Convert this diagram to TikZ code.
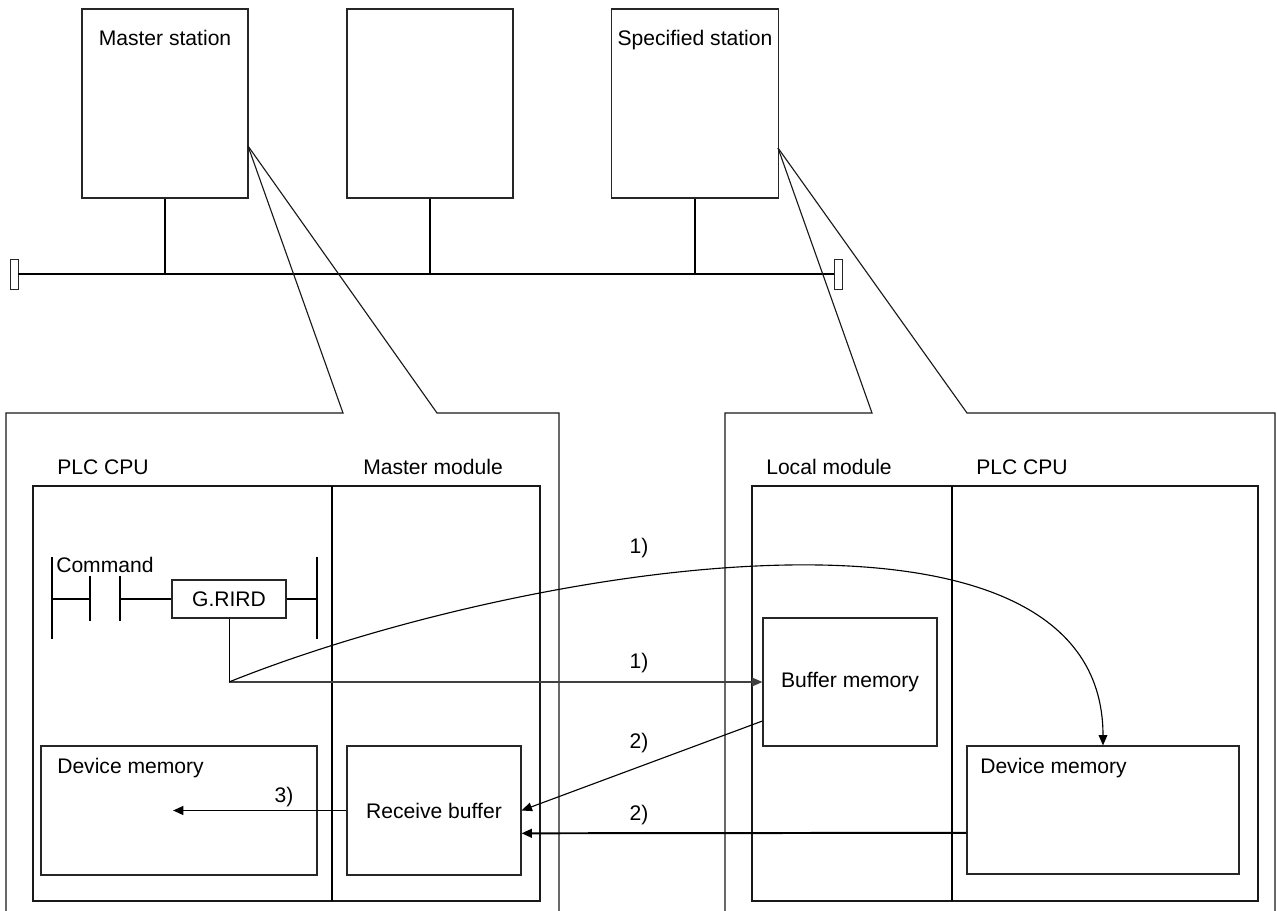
\documentclass[tikz,border=0pt]{standalone}
\usepackage{fontspec}
\setmainfont{Liberation Sans}
\usepackage{tikz}
\usetikzlibrary{arrows.meta}
\tikzstyle{station} = [rectangle, draw=black!85, line width=0.8pt, minimum width=4.15cm, minimum height=4.725cm, inner sep=0pt]
\tikzstyle{rack} = [rectangle, draw=black!90, line width=1pt, minimum width=12.675cm, minimum height=10.375cm, inner sep=0pt]
\tikzstyle{memory} = [rectangle, draw=black!85, line width=0.8pt, minimum width=4.35cm, inner sep=0pt, font=\fontsize{15}{18}\selectfont]
\tikzstyle{busend} = [rectangle, draw=black!85, fill=white, line width=0.7pt, minimum width=0.2cm, minimum height=0.75cm, inner sep=0pt]
\tikzstyle{txt} = [inner sep=0pt, font=\fontsize{15}{18}\selectfont]
\tikzstyle{bus} = [line width=1.4pt]
\tikzstyle{ladder} = [line width=1.3pt]
\tikzstyle{arrow} = [line width=0.8pt, -{Triangle[length=0.26cm,width=0.22cm]}]

\begin{document}
\begin{tikzpicture}[x=0.025cm, y=-0.025cm]
  \useasboundingbox (0,0) rectangle (1277,911);

  % Stations on the network
  \node (mst) [station] at (165,103.5) {};
  \node (mid) [station] at (430,103.5) {};
  \node (spc) [station, minimum width=4.175cm] at (695,103.5) {};
  \node (msttxt) [txt, anchor=base] at (165,45.5) {Master station};
  \node (spctxt) [txt, anchor=base] at (695,45.5) {Specified station};

  % Network line
  \node (endl) [busend] at (14,274) {};
  \node (endr) [busend] at (838.5,274) {};
  \draw[bus] (endl.east) -- (endr.west);
  \draw[bus] (mst.south) -- (mst.south |- endl);
  \draw[bus] (mid.south) -- (mid.south |- endl);
  \draw[bus] (spc.south) -- (spc.south |- endl);

  % Callouts
  \coordinate (mstc) at (248,146);
  \coordinate (spcc) at (778,148);
  \draw[line width=0.8pt, draw=black!90] (mstc) -- (343,413) -- (6,413) -- (6,912);
  \draw[line width=0.8pt, draw=black!90] (mstc) -- (437,413) -- (559,413) -- (559,912);
  \draw[line width=0.8pt, draw=black!90] (spcc) -- (872,413) -- (725,413) -- (725,912);
  \draw[line width=0.8pt, draw=black!90] (spcc) -- (967,413) -- (1275,413) -- (1275,912);

  % Master side
  \node (lrack) [rack] at (286.5,693.5) {};
  \draw[line width=1pt] (332,486) -- (332,901);
  \node (lcpu) [txt, anchor=base west] at (57,474.5) {PLC CPU};
  \node (mmod) [txt, anchor=base west] at (363,474.5) {Master module};

  % Ladder
  \node (rird) [rectangle, draw=black!85, line width=0.8pt, minimum width=2.85cm, minimum height=0.95cm, inner sep=0pt, font=\fontsize{15}{18}\selectfont] at (229,599) {G.RIRD};
  \node (cmd) [txt, anchor=base west] at (56,572.5) {Command};
  \draw[ladder] (52,557) -- (52,639);
  \draw[ladder] (317,557) -- (317,639);
  \draw[ladder] (90,576) -- (90,621);
  \draw[ladder] (120,576) -- (120,621);
  \draw[ladder] (52,599) -- (90,599);
  \draw[ladder] (120,599) -- (rird.west);
  \draw[ladder] (rird.east) -- (317,599);

  \node (ldev) [memory, minimum width=6.9cm, minimum height=3.225cm] at (179,810.5) {};
  \node (ldevtxt) [txt, anchor=base west] at (57,773.5) {Device memory};
  \node (rcvbuf) [memory, minimum height=3.225cm] at (434,810.5) {Receive buffer};

  % Specified station side
  \node (rrack) [rack, minimum width=12.65cm] at (1005,693.5) {};
  \draw[line width=1pt] (952,486) -- (952,901);
  \node (lmod) [txt, anchor=base west] at (766,474.5) {Local module};
  \node (rcpu) [txt, anchor=base west] at (976,474.5) {PLC CPU};

  \node (bufmem) [memory, minimum height=3.2cm] at (850,682) {Buffer memory};
  \node (rdev) [memory, minimum width=6.8cm, minimum height=3.2cm] at (1103,810) {};
  \node (rdevtxt) [txt, anchor=base west] at (980,773.5) {Device memory};

  % Arrows
  \coordinate (split) at (rird.south |- bufmem.west);
  \draw[line width=0.7pt] (rird.south) -- (split);
  \draw[arrow, draw=black!75, line width=0.9pt] (split) -- (bufmem.west);
  \draw[arrow] (split) .. controls (520,565) and (1103,470) .. (rdev.north);
  \draw[arrow] ([yshift=-0.975cm]bufmem.west) -- (rcvbuf.east);
  \draw[arrow, line width=1.4pt] ([yshift=-0.57cm]rdev.west) -- ([yshift=-0.57cm]rcvbuf.east);
  \draw[arrow, line width=1.4pt] (rcvbuf.west) -- ([xshift=-0.15cm]ldev.center);

  \node (n1a) [txt] at (639,548) {1)};
  \node (n1b) [txt] at (639,663) {1)};
  \node (n2a) [txt] at (639,743) {2)};
  \node (n2b) [txt] at (639,815) {2)};
  \node (n3) [txt] at (284,797) {3)};
\end{tikzpicture}
\end{document}
